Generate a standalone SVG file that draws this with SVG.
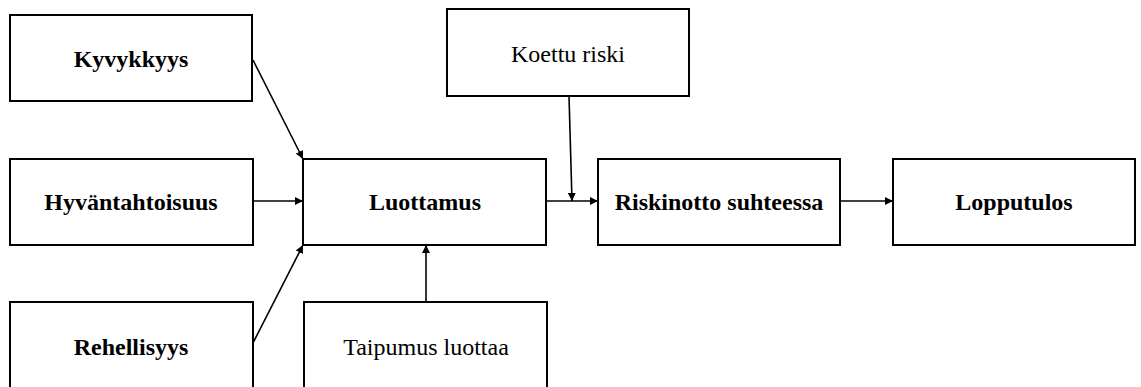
<svg xmlns="http://www.w3.org/2000/svg" width="1141" height="387" viewBox="0 0 1141 387">
  <style>
    .box { fill: #fff; stroke: #000; stroke-width: 2; }
    .lbl { font-family: "Liberation Serif", Tinos, "Times New Roman", "DejaVu Serif", serif; font-size: 24px; fill: #000; text-anchor: middle; }
    .b { font-weight: bold; }
    .link { stroke: #000; stroke-width: 1.6; fill: none; marker-end: url(#arrow); }
  </style>
  <defs>
    <marker id="arrow" viewBox="0 0 10 10" refX="10" refY="5" markerWidth="8" markerHeight="8" markerUnits="userSpaceOnUse" orient="auto">
      <path d="M0,0 L10,5 L0,10 z" fill="#000"/>
    </marker>
  </defs>
  <rect width="1141" height="387" fill="#fff"/>

  <g id="kyvykkyys">
    <rect class="box" x="10" y="15" width="242" height="86"/>
    <text class="lbl b" x="131" y="67">Kyvykkyys</text>
  </g>
  <g id="hyvantahtoisuus">
    <rect class="box" x="10" y="159" width="243" height="86"/>
    <text class="lbl b" x="131" y="210">Hyväntahtoisuus</text>
  </g>
  <g id="rehellisyys">
    <rect class="box" x="10" y="302" width="243" height="100"/>
    <text class="lbl b" x="131" y="355">Rehellisyys</text>
  </g>
  <g id="luottamus">
    <rect class="box" x="303" y="159" width="243" height="86"/>
    <text class="lbl b" x="425" y="210">Luottamus</text>
  </g>
  <g id="taipumus">
    <rect class="box" x="304" y="302" width="243" height="100"/>
    <text class="lbl" x="426" y="355">Taipumus luottaa</text>
  </g>
  <g id="koettu-riski">
    <rect class="box" x="447" y="9" width="242" height="87"/>
    <text class="lbl" x="568" y="62">Koettu riski</text>
  </g>
  <g id="riskinotto">
    <rect class="box" x="598" y="159" width="242" height="86"/>
    <text class="lbl b" x="719" y="210">Riskinotto suhteessa</text>
  </g>
  <g id="lopputulos">
    <rect class="box" x="893" y="159" width="242" height="86"/>
    <text class="lbl b" x="1014" y="210">Lopputulos</text>
  </g>

  <g id="connectors">
    <line class="link" x1="253" y1="60" x2="303" y2="159"/>
    <line class="link" x1="253" y1="201" x2="303" y2="201"/>
    <line class="link" x1="253" y1="343" x2="303" y2="245"/>
    <line class="link" x1="426" y1="302" x2="426" y2="245"/>
    <line class="link" x1="546" y1="201" x2="598" y2="201"/>
    <line class="link" x1="569" y1="96" x2="572" y2="201"/>
    <line class="link" x1="840" y1="201" x2="893" y2="201"/>
  </g>
</svg>
